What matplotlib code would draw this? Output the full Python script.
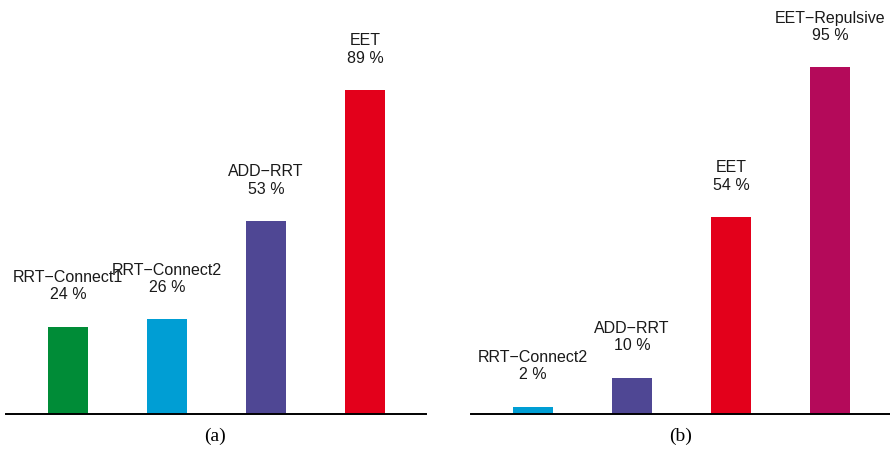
import matplotlib
matplotlib.use("Agg")
import matplotlib.pyplot as plt

plt.rcParams.update({
    "font.family": ["Liberation Sans", "DejaVu Sans"],
    "font.size": 11.5,
    "text.color": "#1a1a1a",
})

# success rates per planner, two scenarios
names_a = ["RRT\u2212Connect1", "RRT\u2212Connect2", "ADD\u2212RRT", "EET"]
rates_a = [24, 26, 53, 89]
colors_a = ["#008C37", "#009ED4", "#4F4794", "#E3001B"]

names_b = ["RRT\u2212Connect2", "ADD\u2212RRT", "EET", "EET\u2212Repulsive"]
rates_b = [2, 10, 54, 95]
colors_b = ["#009ED4", "#4F4794", "#E3001B", "#B40A5A"]

W, H = 890, 450
fig = plt.figure(figsize=(W / 100, H / 100), dpi=100)


def panel(left_px, right_px, names, rates, colors, px_per_pct, tag, tag_x):
    base_px = 414
    top_px = 14
    ax = fig.add_axes([left_px / W, (H - base_px) / H,
                       (right_px - left_px) / W, (base_px - top_px) / H])
    x = list(range(len(names)))
    ax.bar(x, rates, width=0.404, color=colors)
    ax.set_xlim(-0.626, -0.626 + (right_px - left_px) / 99)
    ax.set_ylim(0, (base_px - top_px) / px_per_pct)
    for xi, name, r in zip(x, names, rates):
        ax.annotate(f"{name}\n{r} %", (xi, r), xytext=(0, 17.5),
                    textcoords="offset points", ha="center", va="bottom",
                    multialignment="center", linespacing=1.2)
    for side in ["left", "right", "top"]:
        ax.spines[side].set_visible(False)
    ax.spines["bottom"].set_linewidth(1.4)
    ax.spines["bottom"].set_color("black")
    ax.set_xticks([])
    ax.set_yticks([])
    ax.patch.set_alpha(0)
    fig.text(tag_x / W, 1 - 436 / H, tag, ha="center", va="center",
             family=["Liberation Serif", "DejaVu Serif"], fontsize=14,
             color="black")
    return ax


panel(6, 426, names_a, rates_a, colors_a, 3.64, "(a)", 215)
panel(471, 890, names_b, rates_b, colors_b, 3.65, "(b)", 681)

fig.savefig("out.png", dpi=100)
